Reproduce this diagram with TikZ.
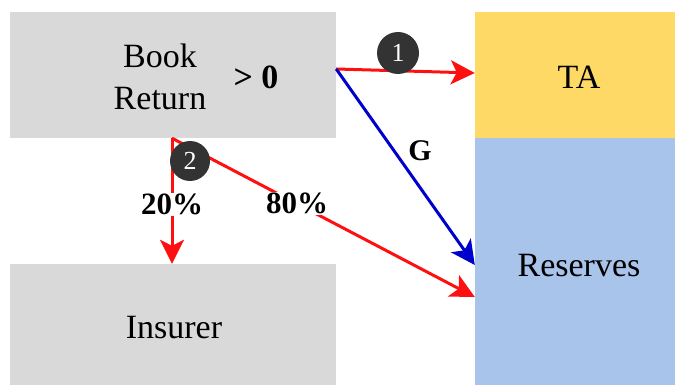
\documentclass[tikz,border=0pt]{standalone}
\usepackage{fontspec}
\setmainfont{Liberation Serif}
\usetikzlibrary{arrows.meta}
\definecolor{boxgray}{HTML}{D9D9D9}
\definecolor{tayellow}{HTML}{FFD966}
\definecolor{resblue}{HTML}{A9C4EB}
\definecolor{arrred}{HTML}{FF1010}
\definecolor{arrblue}{HTML}{0000CC}
\definecolor{circgray}{HTML}{333333}
\tikzset{
  box/.style={draw=none, rectangle, inner sep=0pt},
  txt/.style={inner sep=0pt, font=\fontsize{34}{42}\selectfont, align=center},
  boldlbl/.style={inner sep=0pt, font=\fontsize{#1}{#1}\selectfont\bfseries},
  pct/.style={fill=white, inner sep=1pt, font=\fontsize{31}{31}\selectfont\bfseries},
  redarrow/.style={draw=arrred, line width=3pt, -{Stealth[length=24pt,width=24pt,inset=6pt]}},
  bluearrow/.style={draw=arrblue, line width=3pt, -{Stealth[length=24pt,width=24pt,inset=6pt]}},
  redline/.style={draw=arrred, line width=3pt},
  numcirc/.style={circle, fill=circgray, minimum size=#1, inner sep=0pt, text=white, font=\fontsize{26}{26}\selectfont}
}
\begin{document}
\begin{tikzpicture}[x=1pt, y=-1pt]
\useasboundingbox (0,0) rectangle (675,385);
% boxes
\node[box, fill=boxgray, minimum width=326pt, minimum height=126pt] (book) at (173,75) {};
\node[box, fill=tayellow, minimum width=200pt, minimum height=126pt] (ta) at (575,75) {};
\node[box, fill=resblue, minimum width=200pt, minimum height=247pt] (res) at (575,261.5) {};
\node[box, fill=boxgray, minimum width=326pt, minimum height=121pt] (ins) at (173,324.5) {};
% texts
\node[txt] (booktxt) at (160,77) {Book\\Return};
\node[boldlbl=34] (gt) at (256,77) {> 0};
\node[txt] (tatxt) at (579,77) {TA};
\node[txt] (restxt) at (579,266) {Reserves};
\node[txt] (instxt) at (174,328) {Insurer};
% connectors
\draw[redarrow] ([yshift=6pt]book.east) -- ([yshift=2pt]ta.west);
\draw[bluearrow] ([yshift=6pt]book.east) -- ([yshift=-3.5pt]res.west);
\node[boldlbl=30] (g) at (420,151) {G};
\draw[redarrow] ([xshift=-1pt]book.south) -- ([xshift=-1pt]ins.north) node[pos=0.53, pct] (p20) {20\%};
\draw[redarrow] ([xshift=-1pt]book.south) -- ([yshift=-35.5pt]res.west) node[pos=0.413, pct] (p80) {80\%};
% step circles
\node[numcirc=42pt] (c1) at (398,53) {1};
\node[numcirc=40pt] (c2) at (190,161) {2};
\end{tikzpicture}
\end{document}
